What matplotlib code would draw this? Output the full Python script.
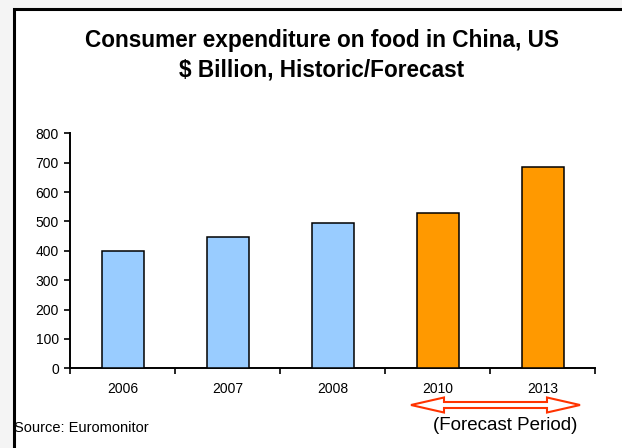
import matplotlib.pyplot as plt
from matplotlib.patches import Rectangle, Polygon

years = ["2006", "2007", "2008", "2010", "2013"]
values = [400, 446, 494, 530, 684]
colors = ["#99ccff", "#99ccff", "#99ccff", "#ff9900", "#ff9900"]
yticks = [0, 100, 200, 300, 400, 500, 600, 700, 800]

W, H = 622, 448
plt.rcParams["font.family"] = ["Liberation Sans", "DejaVu Sans"]

fig = plt.figure(figsize=(W / 100, H / 100), dpi=100, facecolor="#f4f4f4")

# white panel with black frame (runs off the right and bottom edges)
fig.patches.append(Rectangle((14 / W, -0.1), 1.2, 1 - 9 / H + 0.1, transform=fig.transFigure,
                             facecolor="white", edgecolor="black", linewidth=2.2, zorder=-5))

ax = fig.add_axes([70 / W, 1 - 368.3 / H, 525 / W, 235 / H])
ax.set_facecolor("none")
x = [i + 0.5 for i in range(len(years))]
ax.bar(x, values, width=0.4, color=colors, edgecolor="black", linewidth=1.1, zorder=3)

ax.set_xlim(0, len(years))
ax.set_ylim(0, 800)
ax.set_yticks(yticks)
ax.set_xticks(range(len(years) + 1))
ax.set_xticklabels([])
ax.set_xticks(x, minor=True)
ax.set_xticklabels(years, minor=True)
ax.tick_params(axis="x", which="major", direction="out", length=4, width=1.2)
ax.tick_params(axis="x", which="minor", length=0, pad=10, labelsize=10)
ax.tick_params(axis="y", direction="out", length=4, width=1.2, labelsize=10, pad=4)
for s in ["top", "right"]:
    ax.spines[s].set_visible(False)
for s in ["left", "bottom"]:
    ax.spines[s].set_linewidth(1.4)

fig.text(322 / W, 1 - 40 / H, "Consumer expenditure on food in China, US", ha="center", va="center",
         fontsize=16.3, fontweight="bold")
fig.text(322 / W, 1 - 70 / H, "$ Billion, Historic/Forecast", ha="center", va="center",
         fontsize=16.3, fontweight="bold")

fig.text(14 / W, 1 - 428 / H, "Source: Euromonitor", ha="left", va="center", fontsize=10.5)
fig.text(505 / W, 1 - 425 / H, "(Forecast Period)", ha="center", va="center", fontsize=13.5)

# hollow double-headed arrow under the forecast years
pts = [(411, 405), (444, 397.5), (444, 402), (547, 402), (547, 397.5), (580, 405),
       (547, 412.5), (547, 408), (444, 408), (444, 412.5)]
fig.patches.append(Polygon([(px / W, 1 - py / H) for px, py in pts], closed=True,
                           transform=fig.transFigure, facecolor="white", edgecolor="#ff3300",
                           linewidth=1.5))

fig.savefig("out.png", dpi=100, facecolor=fig.get_facecolor())
